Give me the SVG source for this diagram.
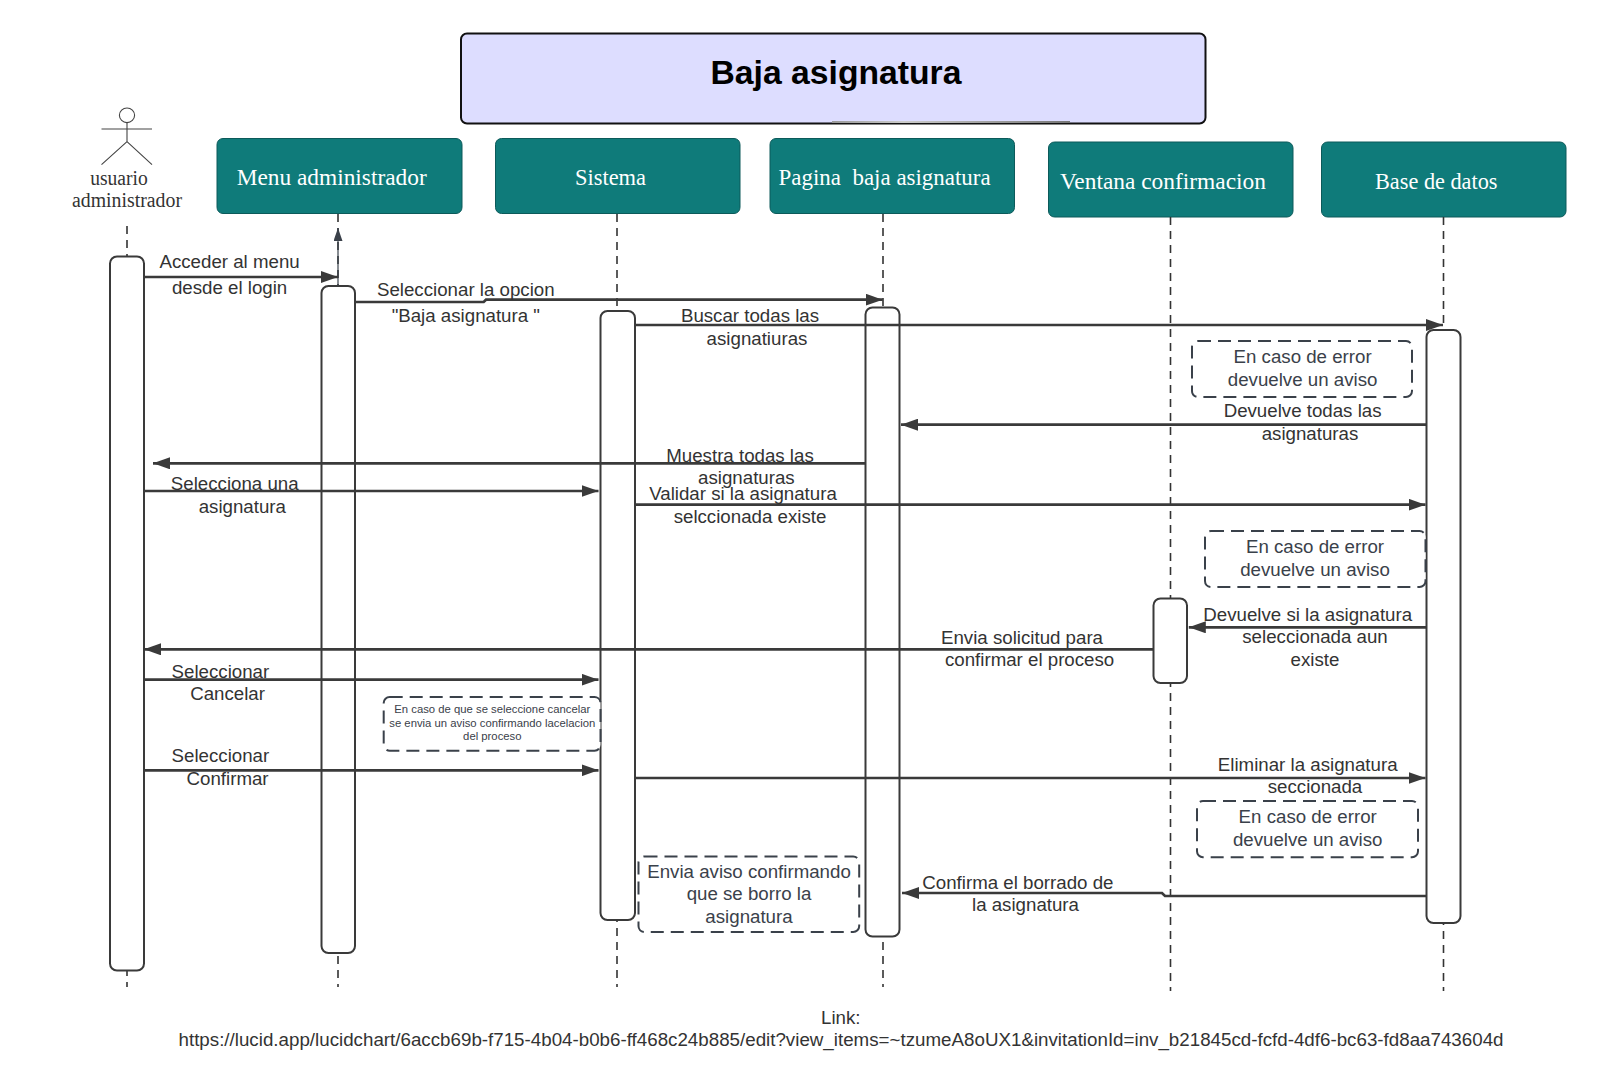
<svg xmlns="http://www.w3.org/2000/svg" width="1600" height="1092" viewBox="0 0 1600 1092">
<style>
text{font-family:"Liberation Sans",Arial,sans-serif;font-size:18.7px;fill:#333;text-anchor:middle}
.title{font-size:33.7px;font-weight:700;fill:#000}
.head{font-family:"Liberation Serif","Times New Roman",serif;font-size:23px;fill:#fff;text-anchor:start;white-space:pre}
.actor{font-family:"Liberation Serif","Times New Roman",serif;font-size:20.5px;fill:#333}
.note{fill:#3a414a}
.small{font-size:11.3px;fill:#3a414a}
.box{fill:#0f7b7a;stroke:#0c5a5a;stroke-width:1}
.bar{fill:#fff;stroke:#3a3a3a;stroke-width:2}
.dash{fill:#fff;stroke:#3a414a;stroke-width:2;stroke-dasharray:13 7}
.life{stroke:#333;stroke-width:1.6;stroke-dasharray:8 6;fill:none}
.msg{stroke:#3a3a3a;stroke-width:2.7;fill:none;marker-end:url(#ah)}
.fig{stroke:#444;stroke-width:1.1;fill:none}
</style>
<defs>
<marker id="ah" markerUnits="userSpaceOnUse" markerWidth="18" markerHeight="12" refX="17" refY="6" orient="auto"><path d="M0 0L17 6L0 12Z" fill="#3a3a3a"/></marker>
<marker id="ah2" markerUnits="userSpaceOnUse" markerWidth="14" markerHeight="9" refX="13" refY="4.5" orient="auto"><path d="M0 0L13 4.5L0 9Z" fill="#3a414a"/></marker>
<linearGradient id="fade"><stop offset="0" stop-color="#999"/><stop offset="0.3" stop-color="#ccc"/><stop offset="1" stop-color="#777"/></linearGradient>
</defs>
<rect width="1600" height="1092" fill="#fff"/>

<g id="title">
<rect x="461" y="33.5" width="744.5" height="90" rx="6" fill="#ddddff" stroke="#111" stroke-width="2"/>
<rect x="832" y="121" width="238" height="2" fill="url(#fade)"/>
<text class="title" x="836" y="84">Baja asignatura</text>
</g>

<g id="actor">
<ellipse class="fig" cx="127" cy="115.3" rx="7.6" ry="7.3"/>
<path class="fig" d="M127 122.6V141.7M101.5 129H152M127 141.7L101.5 164.7M127 141.7L152 164.7"/>
<text class="actor" x="119" y="185" textLength="57.6" lengthAdjust="spacingAndGlyphs">usuario</text>
<text class="actor" x="127" y="207" textLength="110" lengthAdjust="spacingAndGlyphs">administrador</text>
</g>

<g id="menu-administrador"><rect class="box" x="217" y="138.5" width="245" height="75" rx="6"/><text class="head" x="236.7" y="185" textLength="190" lengthAdjust="spacingAndGlyphs">Menu administrador</text></g>
<g id="sistema"><rect class="box" x="495.5" y="138.5" width="244.5" height="75" rx="6"/><text class="head" x="575" y="185" textLength="71" lengthAdjust="spacingAndGlyphs">Sistema</text></g>
<g id="pagina-baja-asignatura"><rect class="box" x="770" y="138.5" width="244.5" height="75" rx="6"/><text class="head" x="778.6" y="185" textLength="212" lengthAdjust="spacingAndGlyphs">Pagina  baja asignatura</text></g>
<g id="ventana-confirmacion"><rect class="box" x="1048.5" y="142" width="244.5" height="75" rx="6"/><text class="head" x="1060" y="188.7" textLength="206" lengthAdjust="spacingAndGlyphs">Ventana confirmacion</text></g>
<g id="base-de-datos"><rect class="box" x="1321.5" y="142" width="244.5" height="75" rx="6"/><text class="head" x="1375" y="188.7" textLength="122.5" lengthAdjust="spacingAndGlyphs">Base de datos</text></g>

<g id="lifelines">
<path class="life" d="M127 226V987"/>
<path class="life" d="M338 214V987"/>
<path class="life" d="M617 214V987"/>
<path class="life" d="M883 214V987"/>
<path class="life" d="M1170.5 217V991"/>
<path class="life" d="M1443.5 217V991"/>
</g>

<g id="activation-bars">
<rect class="bar" x="110" y="256.5" width="34" height="714" rx="7"/>
<rect class="bar" x="321.5" y="286" width="33.5" height="667" rx="7"/>
<rect class="bar" x="600.5" y="311" width="34.5" height="609" rx="7"/>
<rect class="bar" x="865.5" y="307.5" width="34" height="629" rx="7"/>
<rect class="bar" x="1153.5" y="598.5" width="33.5" height="84.5" rx="7"/>
<rect class="bar" x="1426.5" y="330" width="34" height="593" rx="7"/>
</g>

<g id="connectors">
<path d="M338 286V228" stroke="#3a414a" stroke-width="1.2" fill="none" marker-end="url(#ah2)"/>
<path class="msg" d="M144 277H338"/>
<path class="msg" d="M355 302H483.7L486 299.7H882.7"/>
<path class="msg" d="M635 325H1443"/>
<path class="msg" d="M1426.5 424.7H901"/>
<path class="msg" d="M865.5 463.3H153"/>
<path class="msg" d="M144 491H598.5"/>
<path class="msg" d="M635 504.7H1425.5"/>
<path class="msg" d="M1426.5 627.3H1188.8"/>
<path class="msg" d="M1153.5 649.3H144"/>
<path class="msg" d="M144 679.7H598.5"/>
<path class="msg" d="M144 770.3H598.5"/>
<path class="msg" d="M635 778H1425.5"/>
<path class="msg" d="M1426.5 896H1165L1162 893H902"/>
</g>

<g id="notes">
<g id="note-error-1"><rect class="dash" x="1192" y="341" width="220" height="56" rx="6"/><text class="note" x="1302.6" y="363.3">En caso de error</text><text class="note" x="1302.6" y="385.5">devuelve un aviso</text></g>
<g id="note-error-2"><rect class="dash" x="1205" y="531" width="220.5" height="56" rx="6"/><text class="note" x="1315" y="553.3">En caso de error</text><text class="note" x="1315" y="575.7">devuelve un aviso</text></g>
<g id="note-cancelar"><rect class="dash" x="383.7" y="697" width="216.8" height="53.7" rx="6"/><text class="small" x="492.3" y="713">En caso de que se seleccione cancelar</text><text class="small" x="492.3" y="726.5">se envia un aviso confirmando lacelacion</text><text class="small" x="492.3" y="740">del proceso</text></g>
<g id="note-error-3"><rect class="dash" x="1197" y="801" width="221" height="56.3" rx="6"/><text class="note" x="1307.7" y="823.3">En caso de error</text><text class="note" x="1307.7" y="845.7">devuelve un aviso</text></g>
<g id="note-borrado"><rect class="dash" x="638.5" y="856.5" width="220.7" height="75.5" rx="6"/><text class="note" x="749" y="877.7">Envia aviso confirmando</text><text class="note" x="749" y="900">que se borro la</text><text class="note" x="749" y="922.7">asignatura</text></g>
</g>

<g id="labels">
<text x="229.6" y="267.7">Acceder al menu</text><text x="229.6" y="294.3">desde el login</text>
<text x="465.8" y="295.7">Seleccionar la opcion</text><text x="465.8" y="322.3">"Baja asignatura "</text>
<text x="750" y="321.7">Buscar todas las</text><text x="757" y="345">asignatiuras</text>
<text x="1302.6" y="417.3">Devuelve todas las</text><text x="1310" y="440">asignaturas</text>
<text x="740" y="461.7">Muestra todas las</text><text x="746.4" y="484">asignaturas</text>
<text x="234.7" y="490">Selecciona una</text><text x="242.3" y="512.7">asignatura</text>
<text x="743" y="500">Validar si la asignatura</text><text x="750" y="522.7">selccionada existe</text>
<text x="1307.7" y="621">Devuelve si la asignatura</text><text x="1315" y="643.3">seleccionada aun</text><text x="1315" y="666">existe</text>
<text x="1022" y="644">Envia solicitud para</text><text x="1029.6" y="666">confirmar el proceso</text>
<text x="220.4" y="677.7">Seleccionar</text><text x="227.6" y="700">Cancelar</text>
<text x="220.4" y="762">Seleccionar</text><text x="227.6" y="784.7">Confirmar</text>
<text x="1307.7" y="770.7">Eliminar la asignatura</text><text x="1315" y="793.3">seccionada</text>
<text x="1017.9" y="889">Confirma el borrado de</text><text x="1025.5" y="911.3">la asignatura</text>
<text x="840.8" y="1024">Link:</text>
<text x="841" y="1046" textLength="1325" lengthAdjust="spacingAndGlyphs">https://lucid.app/lucidchart/6accb69b-f715-4b04-b0b6-ff468c24b885/edit?view_items=~tzumeA8oUX1&amp;invitationId=inv_b21845cd-fcfd-4df6-bc63-fd8aa743604d</text>
</g>
</svg>
